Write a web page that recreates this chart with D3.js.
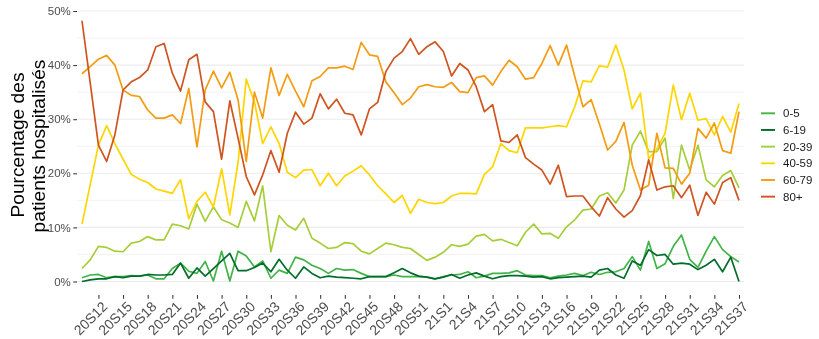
<!DOCTYPE html>
<html>
<head>
<meta charset="utf-8">
<script src="https://cdn.jsdelivr.net/npm/d3@7"></script>
<style>
  html, body { margin: 0; padding: 0; background: #ffffff; }
  svg { display: block; font-family: "Liberation Sans", Arial, sans-serif; will-change: transform; }
</style>
</head>
<body>
<svg id="chart" width="819" height="339"></svg>
<script>
const weeks = ["20S10","20S11","20S12","20S13","20S14","20S15","20S16","20S17","20S18","20S19",
  "20S20","20S21","20S22","20S23","20S24","20S25","20S26","20S27","20S28","20S29",
  "20S30","20S31","20S32","20S33","20S34","20S35","20S36","20S37","20S38","20S39",
  "20S40","20S41","20S42","20S43","20S44","20S45","20S46","20S47","20S48","20S49",
  "20S50","20S51","20S52","20S53","21S1","21S2","21S3","21S4","21S5","21S6",
  "21S7","21S8","21S9","21S10","21S11","21S12","21S13","21S14","21S15","21S16",
  "21S17","21S18","21S19","21S20","21S21","21S22","21S23","21S24","21S25","21S26",
  "21S27","21S28","21S29","21S30","21S31","21S32","21S33","21S34","21S35","21S36","21S37"];

const tickLabels = ["20S12","20S15","20S18","20S21","20S24","20S27","20S30","20S33","20S36",
  "20S39","20S42","20S45","20S48","20S51","21S1","21S4","21S7","21S10","21S13","21S16",
  "21S19","21S22","21S25","21S28","21S31","21S34","21S37"];

const yTicks = [0, 10, 20, 30, 40, 50];
const yMinor = [5, 15, 25, 35, 45];

const groups = ["0-5", "6-19", "20-39", "40-59", "60-79", "80+"];
const colors = ["#41B347", "#006D2C", "#A6CE39", "#FFD500", "#F39C12", "#CF5520"];

const v0_5 = [0.7,1.2,1.3,0.7,0.9,0.9,1.1,1.0,1.2,0.5,
  0.5,2.4,3.4,1.9,1.5,3.7,0.1,5.6,0.1,5.6,
  4.7,2.7,3.8,0.6,2.1,1.5,4.5,4.0,3.0,2.4,
  1.5,2.4,2.1,2.2,1.5,0.9,0.9,0.9,1.2,0.9,
  0.9,0.9,0.8,0.5,0.9,1.2,1.3,1.8,0.7,1.0,
  1.5,1.5,1.6,2.0,1.2,1.1,1.1,0.7,1.0,1.2,
  1.5,1.1,1.7,1.3,1.7,1.8,2.4,4.6,2.1,7.4,
  2.4,3.3,6.5,8.6,4.1,2.6,5.6,8.3,5.9,4.6,3.6];

const v6_19 = [0.0,0.3,0.5,0.5,0.9,0.7,1.0,1.0,1.3,1.2,
  1.2,1.3,3.4,0.6,2.5,1.0,2.4,3.8,5.2,2.0,
  2.0,2.6,3.4,1.8,4.1,2.1,0.6,2.7,1.5,0.7,
  1.0,0.8,0.7,0.6,0.5,0.9,0.9,0.9,1.6,2.4,
  1.6,1.0,0.8,0.5,0.8,1.3,0.6,1.2,1.6,1.0,
  0.5,0.9,1.1,1.1,1.0,0.8,0.9,0.5,0.7,0.8,
  0.9,1.0,0.8,2.1,2.4,1.2,0.6,3.8,3.0,5.9,
  4.8,5.0,3.2,3.4,3.2,2.2,3.0,4.1,1.8,4.5,0.0];

const v20_39 = [2.4,4.0,6.5,6.3,5.6,5.5,7.1,7.4,8.3,7.7,
  7.7,10.6,10.3,9.7,14.3,11.1,13.8,11.4,10.8,10.0,
  14.8,11.2,17.7,5.5,12.2,10.4,9.5,11.7,8.0,7.1,
  6.1,6.3,7.2,7.0,5.6,5.1,6.1,7.1,6.8,6.3,
  6.1,5.0,3.9,4.5,5.4,6.8,6.5,6.9,8.4,8.7,
  7.5,7.8,7.2,6.6,9.1,10.6,8.8,8.9,8.0,10.1,
  11.4,13.2,13.4,15.8,16.4,14.5,16.9,25.2,27.8,24.0,
  24.0,26.5,15.3,25.2,20.6,25.2,18.8,17.5,19.6,20.5,17.3];

const v40_59 = [10.6,17.9,25.2,28.8,25.5,22.6,19.8,18.9,18.3,17.1,
  16.7,16.3,18.8,11.6,14.8,16.5,13.8,20.8,12.3,22.0,
  37.4,33.2,25.5,28.6,25.5,20.2,19.2,20.6,20.7,17.7,
  20.0,17.7,19.5,20.4,21.4,19.7,17.7,16.2,14.6,15.9,
  12.6,15.2,14.6,14.4,14.6,15.8,16.3,16.3,16.2,19.8,
  21.2,25.5,24.2,23.8,28.4,28.4,28.4,28.6,28.8,28.6,
  32.3,37.1,36.9,39.9,39.6,43.7,39.1,31.9,34.8,22.7,
  24.5,27.4,36.3,29.9,34.8,29.8,30.1,27.1,30.5,27.6,32.9];

const v60_79 = [38.4,39.7,41.1,41.8,40.0,35.4,34.4,34.2,31.7,30.2,
  30.2,30.8,29.2,35.7,24.9,35.4,38.9,35.8,38.7,33.6,
  22.2,35.0,30.2,39.5,34.4,38.3,35.2,32.3,37.1,37.9,
  39.5,39.5,39.8,39.2,44.2,41.9,41.6,36.9,34.9,32.7,
  33.9,36.0,36.4,36.0,35.9,36.8,35.1,34.9,37.7,38.0,
  36.3,38.8,40.9,39.7,37.4,37.7,40.3,43.6,40.0,43.7,
  37.9,32.3,33.6,29.1,24.3,25.9,29.4,21.5,16.9,17.8,
  27.4,21.0,20.9,18.0,20.0,28.3,26.5,29.3,24.2,23.7,31.4];

const v80 = [48.2,36.7,25.2,22.2,27.1,35.4,36.9,37.7,39.1,43.4,
  44.0,38.5,35.2,41.0,42.0,33.2,31.4,22.6,33.4,26.5,
  19.4,16.0,19.7,24.2,20.2,27.4,31.3,29.1,30.2,34.7,
  31.9,33.7,31.1,30.8,27.1,31.9,33.1,38.8,41.3,42.5,
  44.9,42.0,43.4,44.3,42.5,38.0,40.3,39.1,36.0,31.4,
  32.7,26.0,25.7,27.1,22.9,21.7,20.6,18.0,21.5,15.7,
  15.8,15.8,13.8,12.1,15.5,13.4,11.9,13.1,15.9,22.5,
  16.9,17.5,17.7,15.5,17.8,12.2,16.5,14.3,18.3,19.2,15.0];

const seriesValues = [v0_5, v6_19, v20_39, v40_59, v60_79, v80];

const svg = d3.select("#chart");
const panel = { left: 77, right: 744, top: -2, bottom: 295 };

const x = d3.scalePoint().domain(weeks).range([82, 739]);
const y = d3.scaleLinear().domain([0, 50]).range([281.5, 11]);

// gridlines
svg.append("g").selectAll("line.minor").data(yMinor).join("line")
  .attr("x1", panel.left).attr("x2", panel.right)
  .attr("y1", d => y(d)).attr("y2", d => y(d))
  .attr("stroke", "#EFEFEF").attr("stroke-width", 0.8);
svg.append("g").selectAll("line.major").data(yTicks).join("line")
  .attr("x1", panel.left).attr("x2", panel.right)
  .attr("y1", d => y(d)).attr("y2", d => y(d))
  .attr("stroke", "#EBEBEB").attr("stroke-width", 1.1);

// lines
const line = d3.line().x((d, i) => x(weeks[i])).y(d => y(d));
svg.append("g").selectAll("path").data(seriesValues).join("path")
  .attr("d", d => line(d))
  .attr("fill", "none")
  .attr("stroke", (d, i) => colors[i])
  .attr("stroke-width", 1.7)
  .attr("stroke-linejoin", "round");

// y axis
const yAxis = svg.append("g").attr("transform", `translate(${panel.left},0)`)
  .call(d3.axisLeft(y).tickValues(yTicks).tickFormat(d => d + "%").tickSize(3.7).tickPadding(2.5));
yAxis.select(".domain").remove();
yAxis.selectAll(".tick line").attr("stroke", "#333333").attr("stroke-width", 1.05);
yAxis.selectAll(".tick text").attr("fill", "#4D4D4D").style("font-size", "11.5px")
  .style("font-family", "'Liberation Sans', Arial, sans-serif");

// x axis
const xAxis = svg.append("g").attr("class", "xaxis").attr("transform", `translate(0,${panel.bottom})`)
  .style("opacity", 0.995)
  .call(d3.axisBottom(x).tickValues(tickLabels).tickSize(3.7).tickPadding(0));
xAxis.select(".domain").remove();
xAxis.selectAll(".tick line").attr("stroke", "#333333").attr("stroke-width", 1.05);
xAxis.selectAll(".tick text")
  .attr("fill", "#4D4D4D")
  .style("font-size", "14px")
  .style("font-family", "'Liberation Sans', Arial, sans-serif")
  .attr("text-anchor", "end")
  .attr("dy", "0.75em")
  .attr("y", 0)
  .attr("transform", "translate(2,5) rotate(-45)");

// y title
const title = svg.append("text")
  .attr("transform", "rotate(-90)")
  .attr("text-anchor", "middle")
  .attr("fill", "#000000")
  .style("font-size", "19.2px");
title.append("tspan").attr("x", -145).attr("y", 24).text("Pourcentage des");
title.append("tspan").attr("x", -146).attr("y", 45).text("patients hospitalisés");

// legend
const legend = svg.append("g");
const lg = legend.selectAll("g").data(groups).join("g")
  .attr("transform", (d, i) => `translate(761,${113.3 + i * 16.67})`);
lg.append("line").attr("x1", 0).attr("x2", 14).attr("y1", 0).attr("y2", 0)
  .attr("stroke", (d, i) => colors[i]).attr("stroke-width", 1.9);
lg.append("text").attr("x", 22).attr("y", 0).attr("dy", "0.35em")
  .style("font-size", "11.5px").attr("fill", "#1A1A1A").text(d => d);
</script>
</body>
</html>
